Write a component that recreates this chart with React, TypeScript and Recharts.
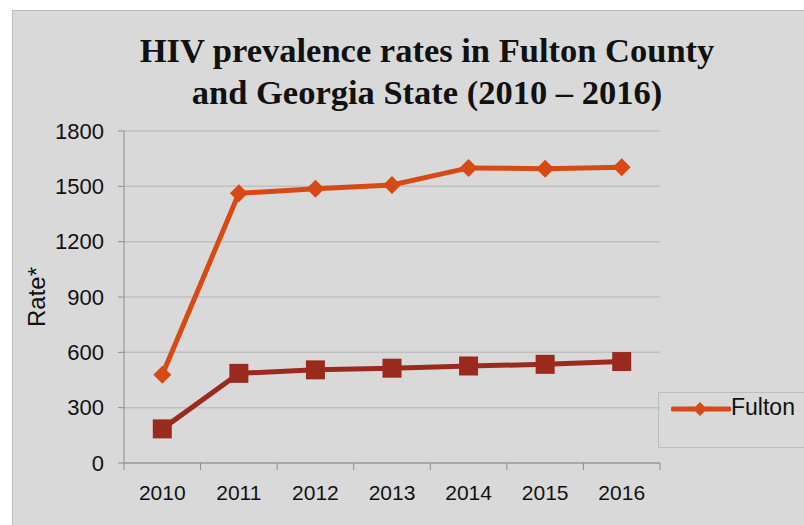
import { LineChart, Line, XAxis, YAxis, CartesianGrid } from 'recharts';

const years = ['2010', '2011', '2012', '2013', '2014', '2015', '2016'];
const fulton = [478, 1462, 1487, 1507, 1600, 1596, 1603];
const georgia = [185, 486, 505, 514, 526, 535, 550];
const yTicks = [0, 300, 600, 900, 1200, 1500, 1800];

const chartData = years.map((year, i) => ({ year, fulton: fulton[i], georgia: georgia[i] }));

const ORANGE = '#D64A16';
const DARK_RED = '#9A2A1E';
const BAND = (660 - 124) / years.length;

function DiamondDot(props: any) {
  const { cx, cy } = props;
  if (cx == null || cy == null) return null;
  const r = 9;
  return (
    <polygon
      points={`${cx},${cy - r} ${cx + r},${cy} ${cx},${cy + r} ${cx - r},${cy}`}
      fill={ORANGE}
    />
  );
}

function SquareDot(props: any) {
  const { cx, cy } = props;
  if (cx == null || cy == null) return null;
  return <rect x={cx - 9.5} y={cy - 9.5} width={19} height={19} fill={DARK_RED} />;
}

function YearTick(props: any) {
  const { x, y, payload, index } = props;
  return (
    <g>
      <line x1={x - BAND / 2} y1={y - 8} x2={x - BAND / 2} y2={y - 1} stroke="#8c8c8c" />
      {index === years.length - 1 && (
        <line x1={x + BAND / 2} y1={y - 8} x2={x + BAND / 2} y2={y - 1} stroke="#8c8c8c" />
      )}
      <text x={x} y={y + 29} textAnchor="middle" fontSize={21} fill="#111">
        {payload.value}
      </text>
    </g>
  );
}

function LegendBox() {
  return (
    <div
      style={{
        position: 'absolute',
        left: 658,
        top: 392,
        width: 150,
        height: 56,
        border: '1px solid #bdbdbd',
        boxSizing: 'border-box',
      }}
    >
      <svg width={60} height={20} style={{ position: 'absolute', left: 12, top: 6 }}>
        <line x1={2} y1={10} x2={58} y2={10} stroke={ORANGE} strokeWidth={5} strokeLinecap="round" />
        <polygon points="29,3 36,10 29,17 22,10" fill={ORANGE} />
      </svg>
      <span style={{ position: 'absolute', left: 72, top: 1, fontSize: 23, color: '#111' }}>Fulton</span>
    </div>
  );
}

export default function App() {
  return (
    <div
      style={{
        position: 'absolute',
        left: 0,
        top: 0,
        width: 804,
        height: 525,
        overflow: 'hidden',
        background: '#fff',
        fontFamily: '"Liberation Sans", Arial, sans-serif',
      }}
    >
      <div
        style={{
          position: 'absolute',
          left: 12,
          top: 10,
          width: 800,
          height: 520,
          background: '#D9D9D9',
          borderTop: '1px solid #bcbcbc',
          borderLeft: '1px solid #bcbcbc',
        }}
      />
      <div
        style={{
          position: 'absolute',
          left: 12,
          top: 29,
          width: 830,
          textAlign: 'center',
          fontFamily: '"Liberation Serif", serif',
          fontWeight: 'bold',
          fontSize: 34.5,
          lineHeight: '42px',
          color: '#111',
        }}
      >
        HIV prevalence rates in Fulton County
        <br />
        and Georgia State (2010 – 2016)
      </div>
      <div style={{ position: 'absolute', left: 0, top: 0 }}>
        <LineChart
          width={804}
          height={525}
          data={chartData}
          margin={{ top: 131, right: 144, bottom: 32, left: 0 }}
        >
          <CartesianGrid vertical={false} stroke="#bfbfbf" strokeWidth={1.5} />
          <XAxis
            dataKey="year"
            height={30}
            padding={{ left: BAND / 2, right: BAND / 2 }}
            axisLine={{ stroke: '#8c8c8c' }}
            tickLine={false}
            tick={<YearTick />}
            interval={0}
          />
          <YAxis
            width={124}
            domain={[0, 1800]}
            ticks={yTicks}
            axisLine={{ stroke: '#8c8c8c' }}
            tickLine={{ stroke: '#8c8c8c' }}
            tickSize={6}
            tickMargin={14}
            tick={{ fontSize: 22, fill: '#111' }}
            label={{
              value: 'Rate*',
              angle: -90,
              position: 'insideLeft',
              offset: 36,
              style: { fontSize: 24, fill: '#111', textAnchor: 'middle' },
            }}
          />
          <Line
            dataKey="fulton"
            name="Fulton"
            stroke={ORANGE}
            strokeWidth={5}
            dot={<DiamondDot />}
            isAnimationActive={false}
          />
          <Line
            dataKey="georgia"
            name="Georgia"
            stroke={DARK_RED}
            strokeWidth={5}
            dot={<SquareDot />}
            isAnimationActive={false}
          />
        </LineChart>
      </div>
      <LegendBox />
    </div>
  );
}
